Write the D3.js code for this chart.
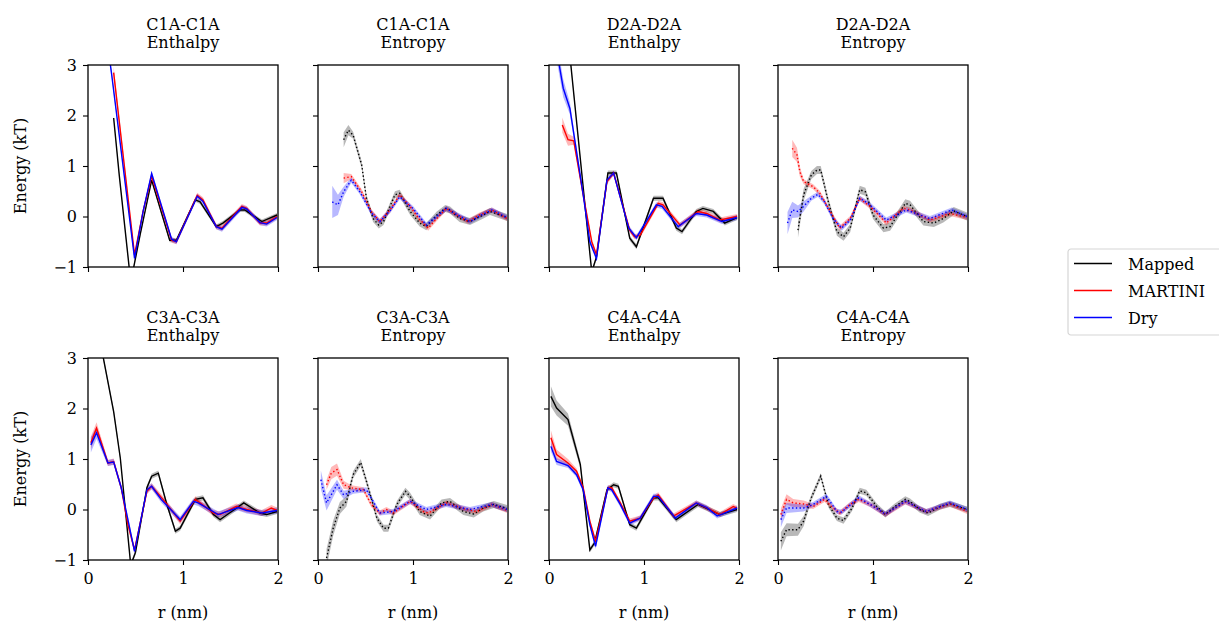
<!DOCTYPE html>
<meta charset="utf-8">
<style>
  body {
    margin: 0;
    background: #fff;
    font-family: "DejaVu Serif", serif;
  }
  .axis path { display: none; }
  .axis line {
    stroke: #000;
    stroke-width: 1.1;
  }
  .frame {
    fill: none;
    stroke: #000;
    stroke-width: 1.3;
  }
  .title, .axis_title, .legend text {
    font-family: "DejaVu Serif", serif;
    font-size: 16px;
    fill: #000;
  }
</style>
<body>
<script src="https://d3js.org/d3.v7.min.js"></script>
<script>
var seriesNames = ["Mapped", "MARTINI", "Dry"];
var seriesColors = ["#000000", "#ff0000", "#0000ff"];
var xTicks = [0, 1, 2];
var yTicks = [-1, 0, 1, 2, 3];

// [r (nm), energy (kT), optional band half-width]
var c1aEnthalpyMapped = [[0.27,1.95],[0.33,0.8],[0.45,-1.3],[0.55,-0.35],[0.67,0.72],[0.86,-0.47],[0.93,-0.47],[1.13,0.33],[1.18,0.29],[1.35,-0.2],[1.42,-0.13],[1.6,0.13],[1.65,0.13],[1.83,-0.1],[1.99,0.03]];
var c1aEnthalpyMartini = [[0.27,2.85,0.12],[0.49,-0.76],[0.58,0.1],[0.67,0.8],[0.88,-0.47],[0.93,-0.5],[1.15,0.42],[1.21,0.33],[1.35,-0.2],[1.41,-0.23],[1.62,0.2],[1.67,0.16],[1.81,-0.13],[1.88,-0.13],[1.99,0.0]];
var c1aEnthalpyDry = [[0.2,3.5],[0.25,2.8],[0.49,-0.83],[0.58,0.1],[0.67,0.85],[0.88,-0.45],[0.93,-0.5],[1.15,0.4],[1.21,0.3],[1.35,-0.2],[1.41,-0.25],[1.62,0.18],[1.67,0.15],[1.81,-0.12],[1.88,-0.15],[1.99,-0.02]];
var c1aEnthalpyBand = [0.04, 0.05, 0.05];

var c1aEntropyMapped = [[0.27,1.52,0.15],[0.32,1.71,0.1],[0.37,1.61],[0.46,1.02],[0.51,0.36],[0.58,-0.04],[0.64,-0.17],[0.69,-0.1],[0.81,0.43],[0.86,0.46],[0.97,0.1],[1.07,-0.13],[1.14,-0.2],[1.25,0.03],[1.34,0.16],[1.39,0.13],[1.49,-0.04],[1.6,-0.1],[1.74,0.03],[1.81,0.1],[1.99,-0.02]];
var c1aEntropyMartini = [[0.27,0.76,0.1],[0.35,0.79],[0.46,0.49],[0.56,0.1],[0.65,-0.1],[0.76,0.13],[0.86,0.43],[0.97,0.2],[1.06,-0.04],[1.16,-0.23],[1.25,-0.04],[1.35,0.16],[1.46,0.03],[1.58,-0.1],[1.7,0.03],[1.83,0.13],[1.99,-0.04]];
var c1aEntropyDry = [[0.15,0.29,0.32],[0.21,0.23,0.2],[0.27,0.49,0.1],[0.35,0.72],[0.44,0.49],[0.56,0.08],[0.65,-0.1],[0.76,0.12],[0.86,0.39],[1.0,0.16],[1.14,-0.17],[1.25,0.0],[1.35,0.16],[1.47,0.03],[1.6,-0.1],[1.72,0.03],[1.83,0.13],[1.99,-0.02]];
var c1aEntropyBand = [0.07, 0.05, 0.05];

var d2aEnthalpyMapped = [[0.2,3.5],[0.23,3.0],[0.45,-1.1],[0.5,-0.8],[0.62,0.86],[0.71,0.86],[0.85,-0.43],[0.92,-0.6],[1.1,0.36],[1.2,0.36],[1.34,-0.23],[1.4,-0.3],[1.55,0.1],[1.62,0.16],[1.73,0.1],[1.85,-0.13],[1.98,-0.02]];
var d2aEnthalpyMartini = [[0.14,1.81,0.15],[0.2,1.52,0.12],[0.26,1.5,0.08],[0.36,0.43],[0.45,-0.5],[0.5,-0.76],[0.61,0.69],[0.68,0.86],[0.85,-0.27],[0.9,-0.4],[0.96,-0.37],[1.15,0.26],[1.2,0.23],[1.38,-0.17],[1.57,0.1],[1.66,0.06],[1.8,-0.07],[1.98,0.0]];
var d2aEnthalpyDry = [[0.08,3.3,0.2],[0.15,2.54,0.18],[0.22,2.14,0.12],[0.36,0.43],[0.43,-0.5],[0.5,-0.83],[0.61,0.72],[0.68,0.86],[0.84,-0.23],[0.92,-0.42],[1.13,0.23],[1.19,0.2],[1.36,-0.2],[1.55,0.06],[1.66,0.03],[1.82,-0.1],[1.98,-0.02]];
var d2aEnthalpyBand = [0.05, 0.05, 0.05];

var d2aEntropyMapped = [[0.21,-0.27,0.15],[0.27,0.43,0.12],[0.35,0.82],[0.41,0.92],[0.45,0.92],[0.53,0.29],[0.62,-0.3],[0.69,-0.4],[0.76,-0.23],[0.86,0.53],[0.92,0.49],[1.0,0.03],[1.11,-0.23],[1.18,-0.2],[1.34,0.26],[1.39,0.23],[1.53,-0.1],[1.64,-0.13],[1.74,-0.04],[1.85,0.11],[1.99,0.0]];
var d2aEntropyMartini = [[0.15,1.35,0.17],[0.2,1.22,0.14],[0.23,0.89,0.1],[0.27,0.69],[0.37,0.59],[0.44,0.46],[0.55,0.1],[0.65,-0.23],[0.76,-0.04],[0.86,0.36],[0.97,0.2],[1.14,-0.13],[1.32,0.16],[1.39,0.13],[1.6,-0.07],[1.81,0.06],[1.99,-0.02]];
var d2aEntropyDry = [[0.1,-0.13,0.22],[0.15,0.13,0.16],[0.21,0.1,0.12],[0.27,0.2,0.1],[0.35,0.36],[0.42,0.44],[0.49,0.29],[0.58,-0.04],[0.67,-0.23],[0.76,-0.07],[0.86,0.36],[0.95,0.26],[1.14,-0.07],[1.35,0.13],[1.6,-0.04],[1.83,0.13],[1.99,0.0]];
var d2aEntropyBand = [0.08, 0.05, 0.05];

var c3aEnthalpyMapped = [[0.1,3.6],[0.27,1.94],[0.34,1.02],[0.45,-1.1],[0.5,-0.85],[0.62,0.43],[0.67,0.66],[0.74,0.72],[0.83,0.1],[0.92,-0.43],[0.97,-0.37],[1.13,0.2],[1.21,0.23],[1.32,-0.1],[1.39,-0.2],[1.49,-0.07],[1.64,0.13],[1.81,-0.07],[1.88,-0.1],[1.99,-0.04]];
var c3aEnthalpyMartini = [[0.03,1.32,0.12],[0.09,1.61,0.12],[0.21,0.92],[0.27,0.95],[0.35,0.43],[0.42,-0.3],[0.49,-0.8],[0.62,0.36],[0.67,0.46],[0.79,0.2],[0.97,-0.23],[1.13,0.2],[1.18,0.13],[1.32,-0.07],[1.39,-0.1],[1.56,0.06],[1.67,0.0],[1.83,-0.07],[1.93,0.03],[1.99,-0.02]];
var c3aEnthalpyDry = [[0.03,1.28,0.15],[0.09,1.52,0.12],[0.21,0.92],[0.27,0.94],[0.35,0.43],[0.49,-0.83],[0.62,0.39],[0.67,0.46],[0.77,0.2],[0.97,-0.2],[1.11,0.16],[1.16,0.13],[1.37,-0.1],[1.58,0.04],[1.67,-0.02],[1.83,-0.07],[1.99,-0.02]];
var c3aEnthalpyBand = [0.05, 0.06, 0.06];

var c3aEntropyMapped = [[0.09,-0.96,0.18],[0.16,-0.37,0.15],[0.23,0.03,0.12],[0.3,0.16,0.1],[0.37,0.69],[0.45,0.93],[0.51,0.56],[0.62,-0.17],[0.69,-0.37],[0.74,-0.37],[0.83,0.1],[0.92,0.36],[0.97,0.26],[1.07,-0.04],[1.18,-0.13],[1.3,0.13],[1.39,0.16],[1.53,-0.04],[1.64,-0.09],[1.74,0.03],[1.85,0.1],[1.99,0.02]];
var c3aEntropyMartini = [[0.09,0.49,0.1],[0.14,0.72,0.12],[0.2,0.79,0.12],[0.27,0.49,0.08],[0.35,0.43],[0.48,0.39],[0.56,0.1],[0.65,-0.07],[0.72,0.0],[0.79,-0.07],[0.97,0.16],[1.11,-0.04],[1.16,-0.07],[1.35,0.13],[1.56,0.0],[1.67,-0.04],[1.83,0.1],[1.99,-0.02]];
var c3aEntropyDry = [[0.03,0.59,0.18],[0.09,0.13,0.15],[0.2,0.49,0.1],[0.27,0.29,0.08],[0.37,0.36],[0.51,0.39],[0.65,-0.07],[0.79,-0.04],[0.97,0.16],[1.14,0.0],[1.35,0.1],[1.6,0.0],[1.83,0.1],[1.99,0.0]];
var c3aEntropyBand = [0.07, 0.05, 0.05];

var c4aEnthalpyMapped = [[0.02,2.24,0.2],[0.08,2.01,0.15],[0.2,1.78,0.12],[0.33,0.89,0.08],[0.43,-0.8],[0.48,-0.66],[0.61,0.39],[0.68,0.49],[0.73,0.46],[0.85,-0.3],[0.92,-0.37],[1.1,0.23],[1.15,0.23],[1.34,-0.2],[1.57,0.1],[1.8,-0.1],[1.98,0.0]];
var c4aEnthalpyMartini = [[0.02,1.42,0.15],[0.08,1.09,0.1],[0.2,0.92,0.08],[0.29,0.76],[0.36,0.43],[0.43,-0.23],[0.49,-0.63],[0.62,0.43],[0.66,0.43],[0.75,0.13],[0.85,-0.23],[0.96,-0.17],[1.1,0.23],[1.15,0.29],[1.31,-0.13],[1.55,0.13],[1.66,0.03],[1.8,-0.1],[1.94,0.06],[1.98,0.02]];
var c4aEnthalpyDry = [[0.02,1.25,0.1],[0.08,0.95,0.07],[0.2,0.87],[0.29,0.69],[0.36,0.39],[0.43,-0.3],[0.49,-0.73],[0.62,0.43],[0.66,0.39],[0.75,0.1],[0.85,-0.27],[0.96,-0.17],[1.1,0.26],[1.15,0.26],[1.33,-0.17],[1.55,0.13],[1.66,0.04],[1.77,-0.13],[1.98,0.03]];
var c4aEnthalpyBand = [0.05, 0.05, 0.05];

var c4aEntropyMapped = [[0.03,-0.63,0.18],[0.09,-0.4,0.13],[0.21,-0.4,0.12],[0.27,-0.23,0.1],[0.35,0.23],[0.45,0.66],[0.53,0.1],[0.62,-0.17],[0.69,-0.22],[0.78,0.03],[0.86,0.37],[0.93,0.33],[1.04,0.06],[1.13,-0.1],[1.23,0.06],[1.34,0.2],[1.39,0.16],[1.49,0.0],[1.58,-0.07],[1.71,0.06],[1.81,0.11],[1.99,0.0]];
var c4aEntropyMartini = [[0.03,-0.1,0.12],[0.09,0.2,0.1],[0.16,0.13,0.08],[0.27,0.11,0.07],[0.37,0.06],[0.49,0.2],[0.58,0.03],[0.65,-0.07],[0.76,0.1],[0.85,0.2],[0.97,0.1],[1.13,-0.1],[1.34,0.15],[1.56,-0.04],[1.81,0.11],[1.99,-0.04]];
var c4aEntropyDry = [[0.03,-0.2,0.15],[0.09,0.03,0.1],[0.27,0.03,0.07],[0.37,0.1],[0.51,0.26],[0.62,-0.04],[0.67,-0.05],[0.85,0.23],[0.97,0.1],[1.13,-0.09],[1.34,0.16],[1.56,-0.04],[1.81,0.13],[1.99,0.0]];
var c4aEntropyBand = [0.06, 0.05, 0.05];

var panels = [
  { title: ["C1A-C1A", "Enthalpy"], dotted: false, series: [c1aEnthalpyMapped, c1aEnthalpyMartini, c1aEnthalpyDry], band: c1aEnthalpyBand },
  { title: ["C1A-C1A", "Entropy"], dotted: true, series: [c1aEntropyMapped, c1aEntropyMartini, c1aEntropyDry], band: c1aEntropyBand },
  { title: ["D2A-D2A", "Enthalpy"], dotted: false, series: [d2aEnthalpyMapped, d2aEnthalpyMartini, d2aEnthalpyDry], band: d2aEnthalpyBand },
  { title: ["D2A-D2A", "Entropy"], dotted: true, series: [d2aEntropyMapped, d2aEntropyMartini, d2aEntropyDry], band: d2aEntropyBand },
  { title: ["C3A-C3A", "Enthalpy"], dotted: false, series: [c3aEnthalpyMapped, c3aEnthalpyMartini, c3aEnthalpyDry], band: c3aEnthalpyBand },
  { title: ["C3A-C3A", "Entropy"], dotted: true, series: [c3aEntropyMapped, c3aEntropyMartini, c3aEntropyDry], band: c3aEntropyBand },
  { title: ["C4A-C4A", "Enthalpy"], dotted: false, series: [c4aEnthalpyMapped, c4aEnthalpyMartini, c4aEnthalpyDry], band: c4aEnthalpyBand },
  { title: ["C4A-C4A", "Entropy"], dotted: true, series: [c4aEntropyMapped, c4aEntropyMartini, c4aEntropyDry], band: c4aEntropyBand }
];

var colLeft = [88, 318, 549, 778],
    rowTop = [65, 358],
    pw = 190,
    ph = 202;

var svg = d3.select("body").append("svg")
    .attr("width", 1219)
    .attr("height", 627);

var x = d3.scaleLinear().domain([0, 2]).range([0, pw]);
var y = d3.scaleLinear().domain([-1, 3]).range([ph, 0]);

var line = d3.line()
    .x(function(d) { return x(d[0]); })
    .y(function(d) { return y(d[1]); });

var tickFmt = d3.format("d");

panels.forEach(function(p, i) {
  var col = i % 4, row = Math.floor(i / 4);
  var g = svg.append("g")
    .attr("transform", "translate(" + colLeft[col] + "," + rowTop[row] + ")");

  g.append("clipPath").attr("id", "clip" + i)
    .append("rect").attr("width", pw).attr("height", ph);

  var plot = g.append("g").attr("clip-path", "url(#clip" + i + ")");

  // shaded uncertainty bands first, lines on top
  p.series.forEach(function(s, k) {
    var base = p.band[k];
    var hw = function(d) { return d[2] !== undefined ? d[2] : base; };
    var area = d3.area()
      .x(function(d) { return x(d[0]); })
      .y0(function(d) { return y(d[1] - hw(d)); })
      .y1(function(d) { return y(d[1] + hw(d)); });
    plot.append("path")
      .attr("d", area(s))
      .attr("fill", seriesColors[k])
      .attr("fill-opacity", 0.28);
  });
  p.series.forEach(function(s, k) {
    plot.append("path")
      .attr("d", line(s))
      .attr("fill", "none")
      .attr("stroke", seriesColors[k])
      .attr("stroke-width", 1.4)
      .attr("stroke-dasharray", p.dotted ? "1.4,2.3" : null);
  });

  var xAxis = d3.axisBottom(x).tickValues(xTicks).tickSize(5).tickPadding(8).tickFormat(tickFmt);
  var yAxis = d3.axisLeft(y).tickValues(yTicks).tickSize(5).tickPadding(6).tickFormat(tickFmt);
  if (row == 0) xAxis.tickFormat("");
  if (col > 0) yAxis.tickFormat("");

  var xg = g.append("g").attr("class", "x axis")
    .attr("transform", "translate(0," + ph + ")")
    .call(xAxis);
  var yg = g.append("g").attr("class", "y axis").call(yAxis);
  [xg, yg].forEach(function(a) {
    a.attr("font-family", null).attr("font-size", null);
    a.selectAll("text")
      .style("font-family", "'DejaVu Serif', serif")
      .style("font-size", "16px")
      .attr("fill", "#000");
  });

  g.append("rect").attr("class", "frame").attr("width", pw).attr("height", ph);

  g.append("text").attr("class", "title")
    .attr("x", pw / 2).attr("y", -35)
    .attr("text-anchor", "middle").text(p.title[0]);
  g.append("text").attr("class", "title")
    .attr("x", pw / 2).attr("y", -17)
    .attr("text-anchor", "middle").text(p.title[1]);

  if (col == 0) {
    g.append("text").attr("class", "axis_title")
      .attr("transform", "translate(-62," + ph / 2 + ") rotate(-90)")
      .attr("text-anchor", "middle").text("Energy (kT)");
  }
  if (row == 1) {
    g.append("text").attr("class", "axis_title")
      .attr("x", pw / 2).attr("y", ph + 58)
      .attr("text-anchor", "middle").text("r (nm)");
  }
});

// legend
var legend = svg.append("g").attr("class", "legend")
    .attr("transform", "translate(1068,249)");
legend.append("rect")
    .attr("width", 160).attr("height", 86)
    .attr("rx", 3)
    .attr("fill", "#fff")
    .attr("stroke", "#d6d6d6")
    .attr("stroke-width", 1.2);
seriesNames.forEach(function(name, k) {
  var ly = 14.5 + k * 27;
  legend.append("line")
    .attr("x1", 6).attr("x2", 44)
    .attr("y1", ly).attr("y2", ly)
    .attr("stroke", seriesColors[k])
    .attr("stroke-width", 1.3);
  legend.append("text")
    .attr("x", 60).attr("y", ly + 6)
    .text(name);
});
</script>
